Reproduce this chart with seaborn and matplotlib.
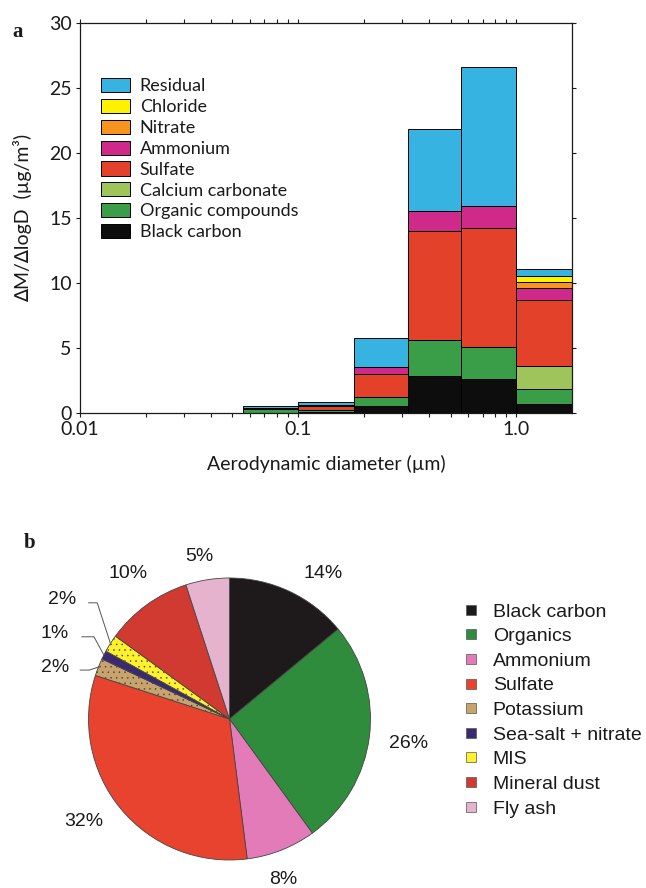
import numpy as np
import pandas as pd
import matplotlib
matplotlib.use("Agg")
import matplotlib.pyplot as plt
import seaborn as sns
from matplotlib.patches import Patch
from matplotlib.lines import Line2D
from matplotlib.ticker import LogLocator, NullFormatter

# (a) size-resolved mass, impactor stage cut points (um)
stage_edges = [0.056, 0.1, 0.18, 0.32, 0.56, 1.0, 1.8]

# dM/dlogD for each stage (ug/m3)
black_carbon = [0.03, 0.07, 0.54, 2.82, 2.60, 0.69]
organic_compounds = [0.25, 0.18, 0.69, 2.78, 2.50, 1.13]
calcium_carbonate = [0.00, 0.00, 0.00, 0.00, 0.00, 1.82]
sulfate = [0.07, 0.25, 1.80, 8.40, 9.10, 5.06]
ammonium = [0.03, 0.15, 0.47, 1.50, 1.70, 0.94]
nitrate = [0.00, 0.00, 0.00, 0.00, 0.00, 0.41]
chloride = [0.00, 0.00, 0.00, 0.00, 0.00, 0.49]
residual = [0.12, 0.22, 2.30, 6.35, 10.70, 0.51]

components = ["Residual", "Chloride", "Nitrate", "Ammonium", "Sulfate",
              "Calcium carbonate", "Organic compounds", "Black carbon"]
comp_colors = ["#36b3e1", "#fff200", "#f7941e", "#cf2a8a", "#e4412b",
               "#9ec45a", "#3a9e48", "#0d0d0d"]

# (b) bulk composition (%)
pie_labels = ["Black carbon", "Organics", "Ammonium", "Sulfate", "Potassium",
              "Sea-salt + nitrate", "MIS", "Mineral dust", "Fly ash"]
pie_values = [14, 26, 8, 32, 2, 1, 2, 10, 5]
pie_colors = ["#1e1a1b", "#2f8c3c", "#e27bb8", "#e7432e", "#c8a46c",
              "#3b2a72", "#fff22b", "#d03a30", "#e5b3ce"]
pie_hatches = [None, None, None, None, "...", None, "...", None, None]

# where the percentages sit (pie radius = 1)
pct_xy = [(0.667, 1.029), (1.268, -0.173), (0.382, -1.137), (-1.032, -0.728),
          (-1.238, 0.367), (-1.243, 0.603), (-1.19, 0.844), (-0.722, 1.029),
          (-0.216, 1.156)]
# leader lines for the thin slices: index -> (line start x, kink x)
leaders = {4: (-1.06, -0.994), 5: (-1.048, -0.961), 6: (-1.0, -0.938)}

sns.set_theme(style="ticks")
plt.rcParams["font.family"] = ["Lato", "DejaVu Sans"]
plt.rcParams["axes.edgecolor"] = "#1a1a1a"
plt.rcParams["xtick.color"] = "#1a1a1a"
plt.rcParams["ytick.color"] = "#1a1a1a"
plt.rcParams["text.color"] = "#1a1a1a"
plt.rcParams["axes.labelcolor"] = "#1a1a1a"
plt.rcParams["hatch.linewidth"] = 0.35

W, H = 646, 888
fig = plt.figure(figsize=(W / 100, H / 100), dpi=100)

# ---------- panel a ----------
series = dict(zip(components, [residual, chloride, nitrate, ammonium, sulfate,
                               calcium_carbonate, organic_compounds, black_carbon]))
edges = np.array(stage_edges)
mids = np.sqrt(edges[:-1] * edges[1:])
rows = []
for comp, vals in series.items():
    for d, v in zip(mids, vals):
        rows.append({"diameter": d, "mass": v, "component": comp})
df = pd.DataFrame(rows)

ax = fig.add_axes([80 / W, 1 - 413 / H, 492 / W, 390 / H])
# with log_scale the bin edges are given in log10 units
sns.histplot(data=df, x="diameter", weights="mass", hue="component",
             hue_order=components, palette=dict(zip(components, comp_colors)),
             multiple="stack", bins=list(np.log10(edges)), log_scale=True,
             edgecolor="black", linewidth=0.7, alpha=1, legend=False, ax=ax)

ax.set_xlim(0.01, 1.8)
ax.set_ylim(0, 30)
ax.set_xticks([0.01, 0.1, 1.0], labels=["0.01", "0.1", "1.0"])
ax.xaxis.set_minor_locator(LogLocator(base=10, subs=np.arange(2, 10)))
ax.xaxis.set_minor_formatter(NullFormatter())
ax.set_yticks(range(0, 31, 5))
ax.tick_params(which="both", direction="out", top=True, right=True,
               length=3, width=0.8, labelsize=14, pad=3)
for s in ax.spines.values():
    s.set_linewidth(0.9)
ax.set_xlabel("Aerodynamic diameter (µm)", fontsize=14, labelpad=12)
ax.set_ylabel("∆M/∆logD  (µg/m³)", fontsize=14)
ax.yaxis.set_label_coords(-0.098, 0.5)

handles = [Patch(facecolor=c, edgecolor="black", linewidth=0.7) for c in comp_colors]
ax.legend(handles, components, loc="upper left",
          bbox_to_anchor=(101 / W, 1 - 78 / H), bbox_transform=fig.transFigure,
          frameon=False, fontsize=13, handlelength=1.6, handleheight=0.83,
          handletextpad=0.55, labelspacing=0.25, borderpad=0, borderaxespad=0)

fig.text(18 / W, 1 - 32 / H, "a", ha="center", va="center",
         family="Liberation Serif", weight="bold", fontsize=15)

# ---------- panel b ----------
r_px = 141
cx, cy = 229.5, 719
pax = fig.add_axes([(cx - 1.6 * r_px) / W, 1 - (cy + 1.3 * r_px) / H,
                    3.2 * r_px / W, 2.6 * r_px / H])
wedges, _ = pax.pie(pie_values, colors=pie_colors, startangle=90, counterclock=False,
                    wedgeprops=dict(edgecolor="#444444", linewidth=0.6))
for w, h in zip(wedges, pie_hatches):
    if h:
        w.set_hatch(h)
pax.set_xlim(-1.6, 1.6)
pax.set_ylim(-1.3, 1.3)
pax.set_aspect("auto")
pax.axis("off")

for i, (w, v) in enumerate(zip(wedges, pie_values)):
    x, y = pct_xy[i]
    pax.text(x, y, f"{v}%", ha="center", va="center",
             family="Liberation Sans", fontsize=14)
    if i in leaders:
        x0, xk = leaders[i]
        mid = np.deg2rad((w.theta1 + w.theta2) / 2)
        pax.plot([x0, xk, np.cos(mid)], [y - 0.02, y - 0.02, np.sin(mid)],
                 color="#555555", lw=0.7, clip_on=False)

pie_handles = [Line2D([], [], ls="", marker="s", ms=7.2, mfc=c, mec="#555555", mew=0.5)
               for c in pie_colors]
fig.legend(pie_handles, pie_labels, loc="upper left",
           bbox_to_anchor=(461.3 / W, 1 - 603 / H), frameon=False,
           prop={"family": "Liberation Sans", "size": 14},
           handlelength=1.0, handletextpad=0.62, labelspacing=0.36,
           borderpad=0, borderaxespad=0)

fig.text(30 / W, 1 - 543 / H, "b", ha="center", va="center",
         family="Liberation Serif", weight="bold", fontsize=15)

fig.savefig("out.png", dpi=100)
